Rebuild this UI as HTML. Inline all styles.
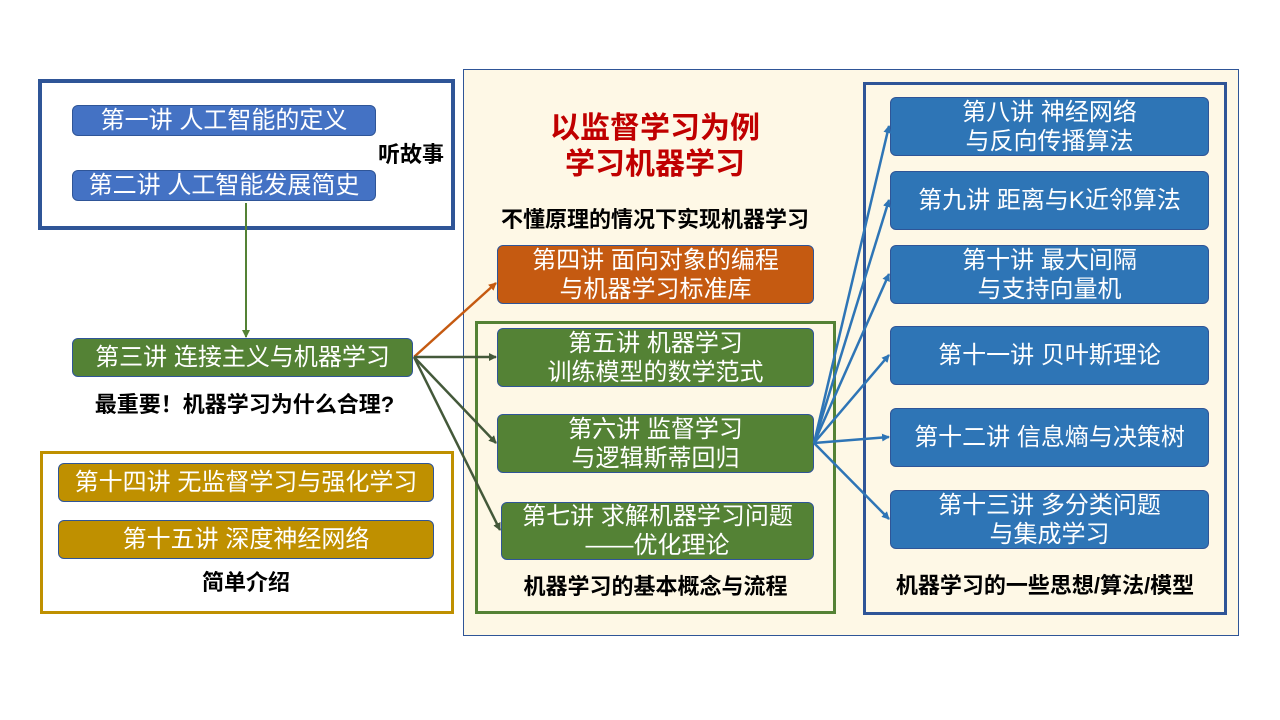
<!DOCTYPE html>
<html><head><meta charset="utf-8"><style>
body{margin:0;width:1280px;height:720px;background:#fff;position:relative;overflow:hidden;font-family:"Liberation Sans","Noto Sans CJK SC",sans-serif}
.a{position:absolute;box-sizing:border-box}
.n{position:absolute;box-sizing:border-box;color:#fff;font-size:24px;line-height:29px;text-align:center;border-radius:6px;border:1px solid #2f5597;display:flex;align-items:center;justify-content:center;flex-direction:column;white-space:nowrap}
.t{position:absolute;font-weight:bold;color:#000;font-size:22px;line-height:28px;text-align:center;white-space:nowrap}
.b{background:#4472c4}.g{background:#548235}.o{background:#c55a11}.y{background:#bf9000}.r{background:#2e75b6}
</style></head><body>
<div class="a" style="left:463px;top:69px;width:776px;height:567px;background:#fef8e6;border:1px solid #2f5597"></div>
<div class="a" style="left:38px;top:79px;width:417px;height:151px;border:4px solid #2f5597"></div>
<div class="a" style="left:40px;top:451px;width:414px;height:163px;border:3px solid #bf9000"></div>
<div class="a" style="left:475px;top:321px;width:361px;height:293px;border:3px solid #548235"></div>
<div class="a" style="left:863px;top:82px;width:364px;height:533px;border:3px solid #2f5597"></div>

<div class="n b" style="left:72px;top:105px;width:304px;height:31px">第一讲 人工智能的定义</div>
<div class="n b" style="left:72px;top:170px;width:304px;height:31px">第二讲 人工智能发展简史</div>
<div class="t" style="left:372px;top:141px;width:78px">听故事</div>
<div class="n g" style="left:72px;top:338px;width:341px;height:39px">第三讲 连接主义与机器学习</div>
<div class="t" style="left:72px;top:391px;width:345px">最重要！机器学习为什么合理?</div>
<div class="n y" style="left:58px;top:463px;width:376px;height:39px">第十四讲 无监督学习与强化学习</div>
<div class="n y" style="left:58px;top:520px;width:376px;height:39px">第十五讲 深度神经网络</div>
<div class="t" style="left:58px;top:569px;width:376px">简单介绍</div>

<div class="t" style="left:463px;top:111px;width:384px;font-size:30px;line-height:36px;color:#c00000">以监督学习为例<br>学习机器学习</div>
<div class="t" style="left:463px;top:206px;width:384px">不懂原理的情况下实现机器学习</div>
<div class="n o" style="left:497px;top:245px;width:317px;height:59px">第四讲 面向对象的编程<br>与机器学习标准库</div>
<div class="n g" style="left:497px;top:328px;width:317px;height:59px">第五讲 机器学习<br>训练模型的数学范式</div>
<div class="n g" style="left:497px;top:414px;width:317px;height:59px">第六讲 监督学习<br>与逻辑斯蒂回归</div>
<div class="n g" style="left:501px;top:502px;width:313px;height:58px">第七讲 求解机器学习问题<br>——优化理论</div>
<div class="t" style="left:475px;top:573px;width:361px">机器学习的基本概念与流程</div>

<div class="n r" style="left:890px;top:97px;width:319px;height:59px">第八讲 神经网络<br>与反向传播算法</div>
<div class="n r" style="left:890px;top:171px;width:319px;height:59px">第九讲 距离与K近邻算法</div>
<div class="n r" style="left:890px;top:245px;width:319px;height:59px">第十讲 最大间隔<br>与支持向量机</div>
<div class="n r" style="left:890px;top:326px;width:319px;height:59px">第十一讲 贝叶斯理论</div>
<div class="n r" style="left:890px;top:408px;width:319px;height:59px">第十二讲 信息熵与决策树</div>
<div class="n r" style="left:890px;top:490px;width:319px;height:59px">第十三讲 多分类问题<br>与集成学习</div>
<div class="t" style="left:863px;top:572px;width:364px">机器学习的一些思想/算法/模型</div>

<svg class="a" style="left:0;top:0" width="1280" height="720">
<defs>
<marker id="mg" markerWidth="8" markerHeight="8" refX="7" refY="4" orient="auto" markerUnits="userSpaceOnUse"><path d="M0,0L8,4L0,8z" fill="#548235"/></marker>
<marker id="md" markerWidth="8" markerHeight="8" refX="7" refY="4" orient="auto" markerUnits="userSpaceOnUse"><path d="M0,0L8,4L0,8z" fill="#44593a"/></marker>
<marker id="mo" markerWidth="8" markerHeight="8" refX="7" refY="4" orient="auto" markerUnits="userSpaceOnUse"><path d="M0,0L8,4L0,8z" fill="#c55a11"/></marker>
<marker id="mb" markerWidth="8" markerHeight="8" refX="7" refY="4" orient="auto" markerUnits="userSpaceOnUse"><path d="M0,0L8,4L0,8z" fill="#2e75b6"/></marker>
</defs>
<line x1="246" y1="203" x2="246" y2="337" stroke="#548235" stroke-width="2" marker-end="url(#mg)"/>
<g stroke-width="2.5">
<line x1="414" y1="357" x2="496" y2="283" stroke="#c55a11" marker-end="url(#mo)"/>
<line x1="414" y1="357" x2="496" y2="357" stroke="#44593a" marker-end="url(#md)"/>
<line x1="414" y1="357" x2="496" y2="443" stroke="#44593a" marker-end="url(#md)"/>
<line x1="414" y1="357" x2="500" y2="530" stroke="#44593a" marker-end="url(#md)"/>
</g>
<g stroke="#2e75b6" stroke-width="2.5" marker-end="url(#mb)">
<line x1="814" y1="443" x2="889" y2="126"/>
<line x1="814" y1="443" x2="889" y2="200"/>
<line x1="814" y1="443" x2="889" y2="274"/>
<line x1="814" y1="443" x2="889" y2="355"/>
<line x1="814" y1="443" x2="889" y2="437"/>
<line x1="814" y1="443" x2="889" y2="519"/>
</g>
</svg>
</body></html>
